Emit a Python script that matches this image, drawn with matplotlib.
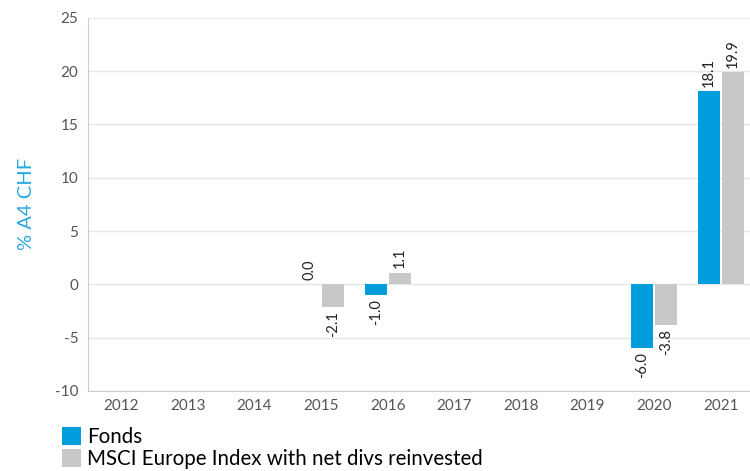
from matplotlib import pyplot as plt
import numpy as np

plt.rcParams['font.family'] = ['Lato', 'DejaVu Sans']
plt.rcParams['axes.unicode_minus'] = False

years = ["2012", "2013", "2014", "2015", "2016", "2017", "2018", "2019", "2020", "2021"]
fonds = [None, None, None, 0.0, -1.0, None, None, None, -6.0, 18.1]
msci = [None, None, None, -2.1, 1.1, None, None, None, -3.8, 19.9]
series_names = ["Fonds", "MSCI Europe Index with net divs reinvested"]
colors = ["#009ddc", "#c8c8c8"]

fig = plt.figure(figsize=(7.5, 4.71), dpi=100)
ax = fig.add_axes([0.1173, 0.170, 0.888, 0.792])

x = np.arange(len(years))
w = 0.33
handles = []
for k, vals in enumerate([fonds, msci]):
    off = (k - 0.5) * (w + 0.03)
    xs = [x[i] + off for i in range(len(vals)) if vals[i] is not None]
    vs = [v for v in vals if v is not None]
    b = ax.bar(xs, vs, width=w, color=colors[k], zorder=3)
    handles.append(b)
    for xi, v in zip(xs, vs):
        if v >= 0:
            ax.annotate("%.1f" % v, (xi, v), xytext=(0, 3), textcoords="offset points",
                        rotation=90, ha="center", va="bottom", fontsize=10.5, color="#222222")
        else:
            ax.annotate("%.1f" % v, (xi, v), xytext=(0, -3), textcoords="offset points",
                        rotation=90, ha="center", va="top", fontsize=10.5, color="#222222")

ax.set_xlim(-0.5, len(years) - 0.5)
ax.set_ylim(-10, 25)
ax.set_yticks(range(-10, 26, 5))
ax.set_xticks(x)
ax.set_xticklabels(years)
ax.grid(axis="y", color="#e6e6e6", linewidth=1, zorder=0)
for s in ["top", "right"]:
    ax.spines[s].set_visible(False)
ax.spines["left"].set_color("#cccccc")
ax.spines["bottom"].set_color("#cccccc")
ax.tick_params(axis="both", length=0, labelsize=11, colors="#555555", pad=6)
ax.tick_params(axis="y", pad=7)
ax.set_ylabel("% A4 CHF", color="#29a8e0", fontsize=14.5, labelpad=14)

fig.legend(handles, series_names, loc="upper left", bbox_to_anchor=(0.082, 0.094),
           frameon=False, fontsize=14.8, handlelength=0.95, handleheight=0.95,
           handletextpad=0.3, labelspacing=0.12, borderaxespad=0, borderpad=0)

fig.savefig("out.png", dpi=100)
